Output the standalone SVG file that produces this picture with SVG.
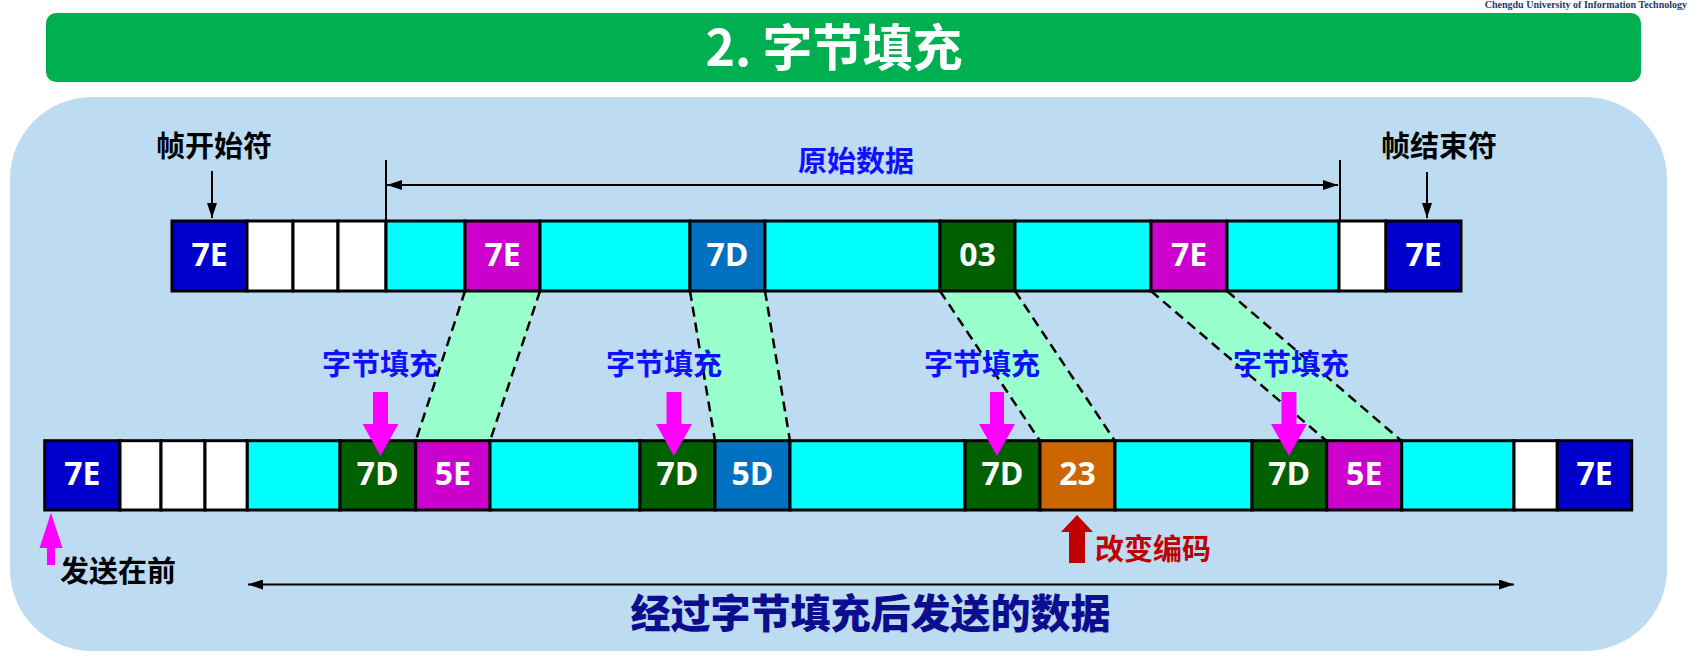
<svg xmlns="http://www.w3.org/2000/svg" width="1689" height="671" viewBox="0 0 1689 671">
<defs>
<style>
.cell{stroke:#000;stroke-width:3}
.blue{fill:#0000CC}.mag{fill:#CC00CC}.mid{fill:#0070C0}.grn{fill:#006000}.org{fill:#CC6600}.cyan{fill:#00FFFF}.wht{fill:#FFFFFF}
.ct{font-family:"Open Sans","Noto Sans CJK SC",sans-serif;font-weight:700;font-size:32px;fill:#fff;text-anchor:middle}
.cj{font-family:"Noto Sans CJK SC","Noto Sans",sans-serif;font-weight:700}
.lbl{font-size:29px;fill:#1010FF;text-anchor:middle}
.blk{font-size:29px;fill:#000}
.band{fill:#99FFCC}
.dash{stroke:#000;stroke-width:2.5;stroke-dasharray:10 6;fill:none}
.ln{stroke:#000;stroke-width:2;fill:none}
.pink{fill:#FF00FF}
</style>
<marker id="ah" viewBox="0 0 15 10" refX="15" refY="5" markerWidth="15" markerHeight="10" markerUnits="userSpaceOnUse" orient="auto-start-reverse">
<path d="M0,0 L15,5 L0,10 Z" fill="#000"/>
</marker>
</defs>

<rect x="0" y="0" width="1689" height="671" fill="#fff"/>
<g id="panel"><rect x="10" y="97" width="1657" height="554" rx="82" ry="82" fill="#BDDCF2"/></g>
<g id="title">
<rect x="46" y="13" width="1595" height="69" rx="10" ry="10" fill="#00B050"/>
<text x="834" y="66" class="cj" font-size="50" fill="#fff" text-anchor="middle">2. 字节填充</text>
</g>
<g id="logo"><text x="1687" y="8" font-family="Liberation Serif,serif" font-weight="700" font-size="10" fill="#1F3864" text-anchor="end">Chengdu University of Information Technology</text></g>

<g id="connectors">
<polygon class="band" points="465,291 540,291 490,441 415.7,441"/>
<polygon class="band" points="690,291 765,291 790,441 715,441"/>
<polygon class="band" points="940,291 1015,291 1115,441 1040,441"/>
<polygon class="band" points="1151,291 1227,291 1401.7,441 1326.7,441"/>
<line class="dash" x1="465" y1="291" x2="415.7" y2="441"/>
<line class="dash" x1="540" y1="291" x2="490" y2="441"/>
<line class="dash" x1="690" y1="291" x2="715" y2="441"/>
<line class="dash" x1="765" y1="291" x2="790" y2="441"/>
<line class="dash" x1="940" y1="291" x2="1040" y2="441"/>
<line class="dash" x1="1015" y1="291" x2="1115" y2="441"/>
<line class="dash" x1="1151" y1="291" x2="1326.7" y2="441"/>
<line class="dash" x1="1227" y1="291" x2="1401.7" y2="441"/>
<line class="ln" x1="386" y1="160" x2="386" y2="221"/>
<line class="ln" x1="1340" y1="160" x2="1340" y2="221"/>
<line class="ln" x1="387" y1="185" x2="1338" y2="185" marker-start="url(#ah)" marker-end="url(#ah)"/>
<line class="ln" x1="212" y1="171" x2="212" y2="218" marker-end="url(#ah)"/>
<line class="ln" x1="1427" y1="172" x2="1427" y2="218" marker-end="url(#ah)"/>
<line class="ln" x1="248" y1="584.5" x2="1514" y2="584.5" marker-start="url(#ah)" marker-end="url(#ah)"/>
</g>

<g id="top-frame">
<rect class="cell blue" x="172" y="221" width="75" height="70"/>
<rect class="cell wht" x="247" y="221" width="46" height="70"/>
<rect class="cell wht" x="293" y="221" width="45" height="70"/>
<rect class="cell wht" x="338" y="221" width="48" height="70"/>
<rect class="cell cyan" x="386" y="221" width="79" height="70"/>
<rect class="cell mag" x="465" y="221" width="75" height="70"/>
<rect class="cell cyan" x="540" y="221" width="150" height="70"/>
<rect class="cell mid" x="690" y="221" width="75" height="70"/>
<rect class="cell cyan" x="765" y="221" width="175" height="70"/>
<rect class="cell grn" x="940" y="221" width="75" height="70"/>
<rect class="cell cyan" x="1015" y="221" width="136" height="70"/>
<rect class="cell mag" x="1151" y="221" width="76" height="70"/>
<rect class="cell cyan" x="1227" y="221" width="112" height="70"/>
<rect class="cell wht" x="1339" y="221" width="47" height="70"/>
<rect class="cell blue" x="1386" y="221" width="75" height="70"/>
<text class="ct" x="209.5" y="266">7E</text>
<text class="ct" x="502.5" y="266">7E</text>
<text class="ct" x="727.5" y="266">7D</text>
<text class="ct" x="977.5" y="266">03</text>
<text class="ct" x="1189" y="266">7E</text>
<text class="ct" x="1423.5" y="266">7E</text>
</g>

<g id="bottom-frame">
<rect class="cell blue" x="44.7" y="440.7" width="75.3" height="69.3"/>
<rect class="cell wht" x="120" y="440.7" width="41" height="69.3"/>
<rect class="cell wht" x="161" y="440.7" width="44" height="69.3"/>
<rect class="cell wht" x="205" y="440.7" width="42.3" height="69.3"/>
<rect class="cell cyan" x="247.3" y="440.7" width="92.7" height="69.3"/>
<rect class="cell grn" x="340" y="440.7" width="75.7" height="69.3"/>
<rect class="cell mag" x="415.7" y="440.7" width="74.3" height="69.3"/>
<rect class="cell cyan" x="490" y="440.7" width="150" height="69.3"/>
<rect class="cell grn" x="640" y="440.7" width="75" height="69.3"/>
<rect class="cell mid" x="715" y="440.7" width="75" height="69.3"/>
<rect class="cell cyan" x="790" y="440.7" width="175" height="69.3"/>
<rect class="cell grn" x="965" y="440.7" width="75" height="69.3"/>
<rect class="cell org" x="1040" y="440.7" width="75" height="69.3"/>
<rect class="cell cyan" x="1115" y="440.7" width="137" height="69.3"/>
<rect class="cell grn" x="1252" y="440.7" width="74.7" height="69.3"/>
<rect class="cell mag" x="1326.7" y="440.7" width="75" height="69.3"/>
<rect class="cell cyan" x="1401.7" y="440.7" width="112.3" height="69.3"/>
<rect class="cell wht" x="1514" y="440.7" width="43.3" height="69.3"/>
<rect class="cell blue" x="1557.3" y="440.7" width="74.4" height="69.3"/>
<text class="ct" x="82.3" y="485">7E</text>
<text class="ct" x="377.8" y="485">7D</text>
<text class="ct" x="452.8" y="485">5E</text>
<text class="ct" x="677.5" y="485">7D</text>
<text class="ct" x="752.5" y="485">5D</text>
<text class="ct" x="1002.5" y="485">7D</text>
<text class="ct" x="1077.5" y="485">23</text>
<text class="ct" x="1289.3" y="485">7D</text>
<text class="ct" x="1364.2" y="485">5E</text>
<text class="ct" x="1594.5" y="485">7E</text>
</g>

<g id="stuff-arrows">
<polygon class="pink" points="373,392 388,392 388,424 398.5,424 380.5,456 362.5,424 373,424"/>
<polygon class="pink" points="666.5,392 681.5,392 681.5,424 692,424 674,456 656,424 666.5,424"/>
<polygon class="pink" points="990,392 1004,392 1004,424 1015,424 997,456 979,424 990,424"/>
<polygon class="pink" points="1281.5,392 1296.5,392 1296.5,424 1307,424 1289,456 1271,424 1281.5,424"/>
<polygon class="pink" points="51,512.7 62.5,548 55,548 55,565 47,565 47,548 39.5,548"/>
<polygon fill="#C00000" points="1077,515 1093,532 1085,532 1085,563 1069,563 1069,532 1061,532"/>
</g>

<g id="labels" class="cj">
<text class="blk" x="156" y="157">帧开始符</text>
<text class="blk" x="1381" y="157">帧结束符</text>
<text class="lbl" x="856" y="172">原始数据</text>
<text class="lbl" x="380" y="375">字节填充</text>
<text class="lbl" x="664" y="375">字节填充</text>
<text class="lbl" x="982" y="375">字节填充</text>
<text class="lbl" x="1291" y="375">字节填充</text>
<text class="blk" x="60" y="582">发送在前</text>
<text x="1095" y="560" font-size="29" fill="#C00000">改变编码</text>
<text x="870.5" y="628" font-size="40" fill="#0D0D8F" text-anchor="middle" font-weight="900">经过字节填充后发送的数据</text>
</g>
</svg>
